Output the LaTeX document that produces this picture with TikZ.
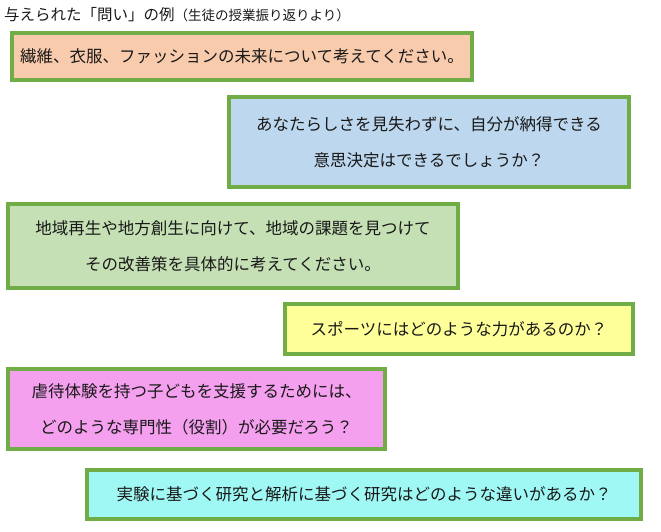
\documentclass[tikz,border=0pt]{standalone}
\usepackage{fontspec}
\setmainfont{Noto Sans CJK JP}
\usetikzlibrary{positioning}
\definecolor{frame}{HTML}{70AD47}
\definecolor{peach}{HTML}{F8CBAD}
\definecolor{skyblue}{HTML}{BDD7EE}
\definecolor{leaf}{HTML}{C5E0B4}
\definecolor{lemon}{HTML}{FFFF99}
\definecolor{orchid}{HTML}{F4A0EF}
\definecolor{aqua}{HTML}{A0F8F4}
\tikzset{
  qbox/.style={draw=frame, line width=4pt, align=center, inner sep=0pt, text=black!90,
    font=\fontsize{16.5}{36}\selectfont},
}

\begin{document}
\begin{tikzpicture}[x=1pt, y=-1pt]
\useasboundingbox (0,0) rectangle (661,532);
\node[anchor=west, inner sep=0pt, text=black!90] (title) at (4,15)
  {{\fontsize{15.5}{15}\selectfont 与えられた「問い」の例}{\fontsize{13.5}{13}\selectfont（生徒の授業振り返りより）}};

\node[qbox, fill=peach, minimum width=460pt, minimum height=47pt] (q1) at (242,56.5)
  {繊維、衣服、ファッションの未来について考えてください。};
\node[qbox, fill=skyblue, minimum width=400pt, minimum height=90pt] (q2) at (429,142)
  {あなたらしさを見失わずに、自分が納得できる\\意思決定はできるでしょうか？};
\node[qbox, fill=leaf, minimum width=450pt, minimum height=84pt] (q3) at (233,246)
  {地域再生や地方創生に向けて、地域の課題を見つけて\\その改善策を具体的に考えてください。};
\node[qbox, fill=lemon, minimum width=348pt, minimum height=50pt] (q4) at (459,329)
  {スポーツにはどのような力があるのか？};
\node[qbox, fill=orchid, minimum width=377pt, minimum height=80pt] (q5) at (196.5,409)
  {虐待体験を持つ子どもを支援するためには、\\どのような専門性（役割）が必要だろう？};
\node[qbox, fill=aqua, minimum width=554pt, minimum height=49pt] (q6) at (364,494.5)
  {実験に基づく研究と解析に基づく研究はどのような違いがあるか？};
\end{tikzpicture}
\end{document}
